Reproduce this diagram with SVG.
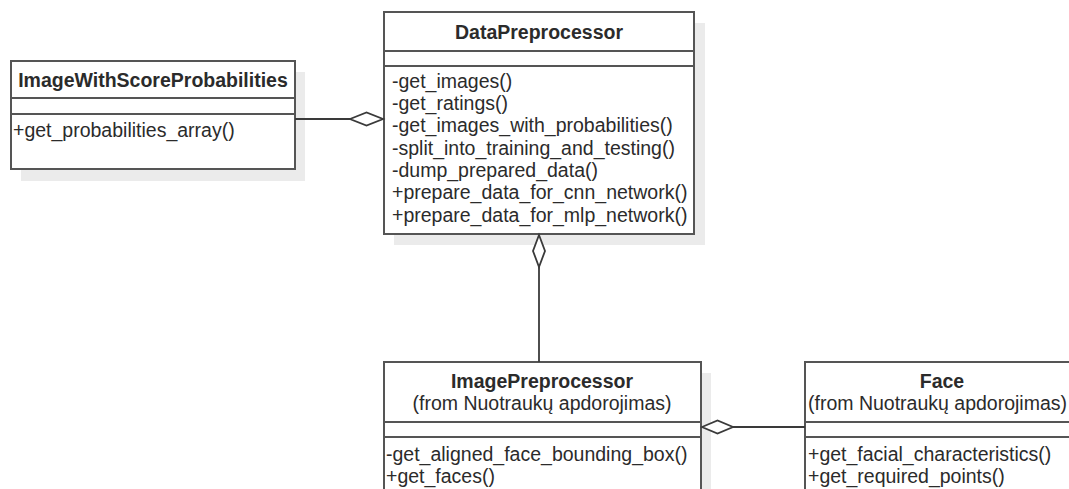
<svg xmlns="http://www.w3.org/2000/svg" width="1069" height="489" viewBox="0 0 1069 489">
<defs>
<style>
.shadow{fill:#ebebeb;stroke:none}
.box{fill:#ffffff;stroke:#555555;stroke-width:2}
.sep{stroke:#555555;stroke-width:2}
.t{font-family:"Liberation Sans",Arial,sans-serif;font-size:19.5px;fill:#2b2b2b}
.title{font-weight:bold;text-anchor:middle}
.c{text-anchor:middle}
.conn{stroke:#3a3a3a;stroke-width:1.8;fill:none}
.dia{stroke:#3a3a3a;stroke-width:1.8;fill:#ffffff}
</style>
</defs>
<rect width="1069" height="489" fill="#ffffff"/>

<g id="ImageWithScoreProbabilities">
<rect class="shadow" x="21" y="72" width="284" height="109"/>
<rect class="box" x="11" y="61" width="284" height="108"/>
<line class="sep" x1="11" y1="98" x2="295" y2="98"/>
<line class="sep" x1="11" y1="114" x2="295" y2="114"/>
<text class="t title" x="153" y="86.5">ImageWithScoreProbabilities</text>
<text class="t" x="13" y="137">+get_probabilities_array()</text>
</g>

<g id="DataPreprocessor">
<rect class="shadow" x="394" y="23" width="311" height="222"/>
<rect class="box" x="384" y="12" width="310" height="222"/>
<line class="sep" x1="384" y1="51" x2="694" y2="51"/>
<line class="sep" x1="384" y1="66" x2="694" y2="66"/>
<text class="t title" x="539" y="38.5">DataPreprocessor</text>
<text class="t" x="392" y="87.5">-get_images()</text>
<text class="t" x="392" y="109.8">-get_ratings()</text>
<text class="t" x="392" y="132.2">-get_images_with_probabilities()</text>
<text class="t" x="392" y="154.5">-split_into_training_and_testing()</text>
<text class="t" x="392" y="176.8">-dump_prepared_data()</text>
<text class="t" x="392" y="199.2">+prepare_data_for_cnn_network()</text>
<text class="t" x="392" y="221.5">+prepare_data_for_mlp_network()</text>
</g>

<g id="ImagePreprocessor">
<rect class="shadow" x="394" y="373" width="317" height="140"/>
<rect class="box" x="384" y="362" width="317" height="140"/>
<line class="sep" x1="384" y1="422" x2="701" y2="422"/>
<line class="sep" x1="384" y1="437" x2="701" y2="437"/>
<text class="t title" x="542" y="388">ImagePreprocessor</text>
<text class="t c" x="542" y="410">(from Nuotraukų apdorojimas)</text>
<text class="t" x="386" y="461">-get_aligned_face_bounding_box()</text>
<text class="t" x="386" y="483">+get_faces()</text>
</g>

<g id="Face">
<rect class="shadow" x="815" y="373" width="273" height="140"/>
<rect class="box" x="805" y="362" width="273" height="140"/>
<line class="sep" x1="805" y1="422" x2="1078" y2="422"/>
<line class="sep" x1="805" y1="437" x2="1078" y2="437"/>
<text class="t title" x="942" y="388">Face</text>
<text class="t" x="808" y="410">(from Nuotraukų apdorojimas)</text>
<text class="t" x="808" y="461">+get_facial_characteristics()</text>
<text class="t" x="808" y="483">+get_required_points()</text>
</g>

<g id="connectors">
<line class="conn" x1="295" y1="119" x2="350" y2="119"/>
<polygon class="dia" points="350,119 366.5,112.5 383,119 366.5,125.5"/>
<line class="conn" x1="539" y1="267" x2="539" y2="362"/>
<polygon class="dia" points="539,235 545,251 539,267 533,251"/>
<line class="conn" x1="733" y1="427" x2="805" y2="427"/>
<polygon class="dia" points="702,427 717.5,420.5 733,427 717.5,433.5"/>
</g>
</svg>
